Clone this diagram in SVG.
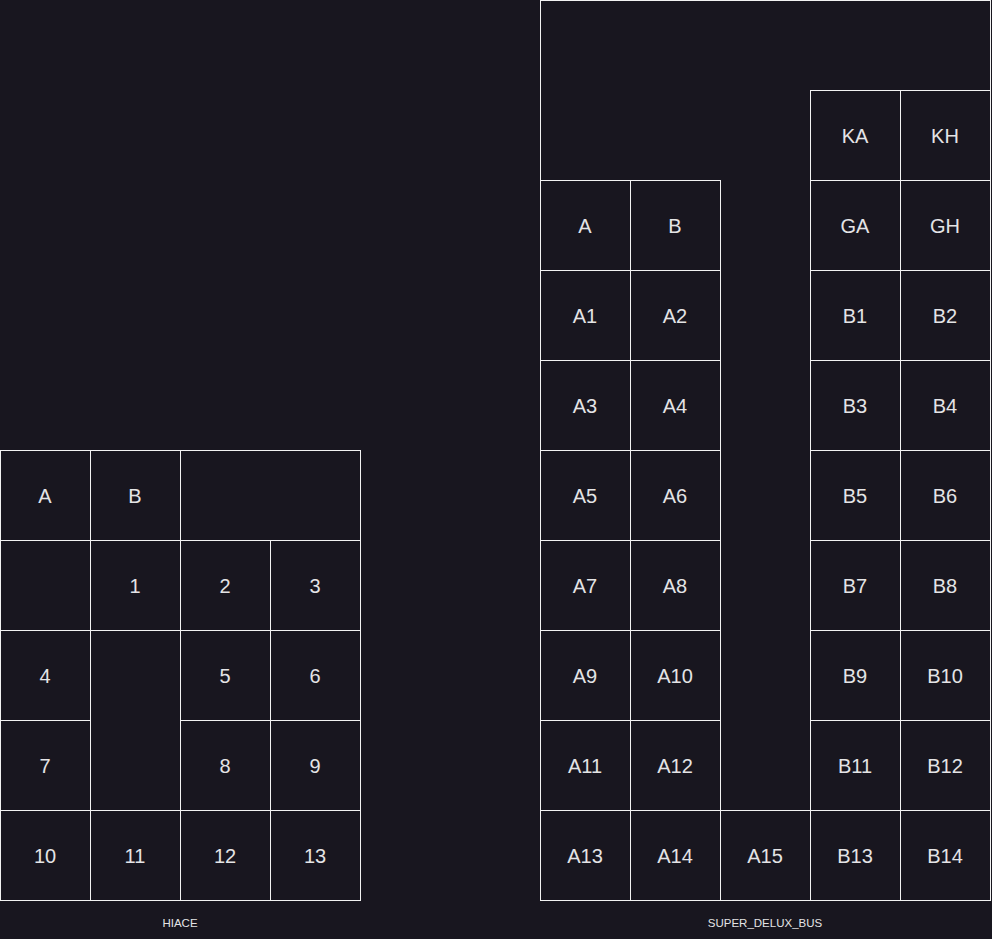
<svg xmlns="http://www.w3.org/2000/svg" width="992" height="939" viewBox="0 0 992 939">
<style>
.c{fill:none;stroke:#f2f2f2;stroke-width:1}
.t{font-family:"Liberation Sans",Arial,sans-serif;font-size:20px;fill:#e4e4e6;text-anchor:middle}
.l{font-family:"Liberation Sans",Arial,sans-serif;font-size:11.5px;fill:#e4e4e6;text-anchor:middle}
</style>
<rect x="0" y="0" width="992" height="939" fill="#18161f"/>
<g id="hiace">
<g id="h-A"><rect class="c" x="0.5" y="450.5" width="90" height="90"/><text class="t" x="45" y="503">A</text></g>
<g id="h-B"><rect class="c" x="90.5" y="450.5" width="90" height="90"/><text class="t" x="135" y="503">B</text></g>
<g id="h-front"><rect class="c" x="180.5" y="450.5" width="180" height="90"/></g>
<g id="h-e1"><rect class="c" x="0.5" y="540.5" width="90" height="90"/></g>
<g id="h-1"><rect class="c" x="90.5" y="540.5" width="90" height="90"/><text class="t" x="135" y="593">1</text></g>
<g id="h-2"><rect class="c" x="180.5" y="540.5" width="90" height="90"/><text class="t" x="225" y="593">2</text></g>
<g id="h-3"><rect class="c" x="270.5" y="540.5" width="90" height="90"/><text class="t" x="315" y="593">3</text></g>
<g id="h-4"><rect class="c" x="0.5" y="630.5" width="90" height="90"/><text class="t" x="45" y="683">4</text></g>
<g id="h-aisle"><rect class="c" x="90.5" y="630.5" width="90" height="180"/></g>
<g id="h-5"><rect class="c" x="180.5" y="630.5" width="90" height="90"/><text class="t" x="225" y="683">5</text></g>
<g id="h-6"><rect class="c" x="270.5" y="630.5" width="90" height="90"/><text class="t" x="315" y="683">6</text></g>
<g id="h-7"><rect class="c" x="0.5" y="720.5" width="90" height="90"/><text class="t" x="45" y="773">7</text></g>
<g id="h-8"><rect class="c" x="180.5" y="720.5" width="90" height="90"/><text class="t" x="225" y="773">8</text></g>
<g id="h-9"><rect class="c" x="270.5" y="720.5" width="90" height="90"/><text class="t" x="315" y="773">9</text></g>
<g id="h-10"><rect class="c" x="0.5" y="810.5" width="90" height="90"/><text class="t" x="45" y="863">10</text></g>
<g id="h-11"><rect class="c" x="90.5" y="810.5" width="90" height="90"/><text class="t" x="135" y="863">11</text></g>
<g id="h-12"><rect class="c" x="180.5" y="810.5" width="90" height="90"/><text class="t" x="225" y="863">12</text></g>
<g id="h-13"><rect class="c" x="270.5" y="810.5" width="90" height="90"/><text class="t" x="315" y="863">13</text></g>
<text class="l" x="180" y="927">HIACE</text>
</g>
<g id="bus">
<g id="b-outline"><rect class="c" x="540.5" y="0.5" width="450" height="900"/></g>
<g id="b-KA"><rect class="c" x="810.5" y="90.5" width="90" height="90"/><text class="t" x="855" y="143">KA</text></g>
<g id="b-KH"><rect class="c" x="900.5" y="90.5" width="90" height="90"/><text class="t" x="945" y="143">KH</text></g>
<g id="b-A"><rect class="c" x="540.5" y="180.5" width="90" height="90"/><text class="t" x="585" y="233">A</text></g>
<g id="b-B"><rect class="c" x="630.5" y="180.5" width="90" height="90"/><text class="t" x="675" y="233">B</text></g>
<g id="b-GA"><rect class="c" x="810.5" y="180.5" width="90" height="90"/><text class="t" x="855" y="233">GA</text></g>
<g id="b-GH"><rect class="c" x="900.5" y="180.5" width="90" height="90"/><text class="t" x="945" y="233">GH</text></g>
<g id="b-A1"><rect class="c" x="540.5" y="270.5" width="90" height="90"/><text class="t" x="585" y="323">A1</text></g>
<g id="b-A2"><rect class="c" x="630.5" y="270.5" width="90" height="90"/><text class="t" x="675" y="323">A2</text></g>
<g id="b-B1"><rect class="c" x="810.5" y="270.5" width="90" height="90"/><text class="t" x="855" y="323">B1</text></g>
<g id="b-B2"><rect class="c" x="900.5" y="270.5" width="90" height="90"/><text class="t" x="945" y="323">B2</text></g>
<g id="b-A3"><rect class="c" x="540.5" y="360.5" width="90" height="90"/><text class="t" x="585" y="413">A3</text></g>
<g id="b-A4"><rect class="c" x="630.5" y="360.5" width="90" height="90"/><text class="t" x="675" y="413">A4</text></g>
<g id="b-B3"><rect class="c" x="810.5" y="360.5" width="90" height="90"/><text class="t" x="855" y="413">B3</text></g>
<g id="b-B4"><rect class="c" x="900.5" y="360.5" width="90" height="90"/><text class="t" x="945" y="413">B4</text></g>
<g id="b-A5"><rect class="c" x="540.5" y="450.5" width="90" height="90"/><text class="t" x="585" y="503">A5</text></g>
<g id="b-A6"><rect class="c" x="630.5" y="450.5" width="90" height="90"/><text class="t" x="675" y="503">A6</text></g>
<g id="b-B5"><rect class="c" x="810.5" y="450.5" width="90" height="90"/><text class="t" x="855" y="503">B5</text></g>
<g id="b-B6"><rect class="c" x="900.5" y="450.5" width="90" height="90"/><text class="t" x="945" y="503">B6</text></g>
<g id="b-A7"><rect class="c" x="540.5" y="540.5" width="90" height="90"/><text class="t" x="585" y="593">A7</text></g>
<g id="b-A8"><rect class="c" x="630.5" y="540.5" width="90" height="90"/><text class="t" x="675" y="593">A8</text></g>
<g id="b-B7"><rect class="c" x="810.5" y="540.5" width="90" height="90"/><text class="t" x="855" y="593">B7</text></g>
<g id="b-B8"><rect class="c" x="900.5" y="540.5" width="90" height="90"/><text class="t" x="945" y="593">B8</text></g>
<g id="b-A9"><rect class="c" x="540.5" y="630.5" width="90" height="90"/><text class="t" x="585" y="683">A9</text></g>
<g id="b-A10"><rect class="c" x="630.5" y="630.5" width="90" height="90"/><text class="t" x="675" y="683">A10</text></g>
<g id="b-B9"><rect class="c" x="810.5" y="630.5" width="90" height="90"/><text class="t" x="855" y="683">B9</text></g>
<g id="b-B10"><rect class="c" x="900.5" y="630.5" width="90" height="90"/><text class="t" x="945" y="683">B10</text></g>
<g id="b-A11"><rect class="c" x="540.5" y="720.5" width="90" height="90"/><text class="t" x="585" y="773">A11</text></g>
<g id="b-A12"><rect class="c" x="630.5" y="720.5" width="90" height="90"/><text class="t" x="675" y="773">A12</text></g>
<g id="b-B11"><rect class="c" x="810.5" y="720.5" width="90" height="90"/><text class="t" x="855" y="773">B11</text></g>
<g id="b-B12"><rect class="c" x="900.5" y="720.5" width="90" height="90"/><text class="t" x="945" y="773">B12</text></g>
<g id="b-A13"><rect class="c" x="540.5" y="810.5" width="90" height="90"/><text class="t" x="585" y="863">A13</text></g>
<g id="b-A14"><rect class="c" x="630.5" y="810.5" width="90" height="90"/><text class="t" x="675" y="863">A14</text></g>
<g id="b-A15"><rect class="c" x="720.5" y="810.5" width="90" height="90"/><text class="t" x="765" y="863">A15</text></g>
<g id="b-B13"><rect class="c" x="810.5" y="810.5" width="90" height="90"/><text class="t" x="855" y="863">B13</text></g>
<g id="b-B14"><rect class="c" x="900.5" y="810.5" width="90" height="90"/><text class="t" x="945" y="863">B14</text></g>
<text class="l" x="765" y="927">SUPER_DELUX_BUS</text>
</g>
<g id="connectors"/>
</svg>
